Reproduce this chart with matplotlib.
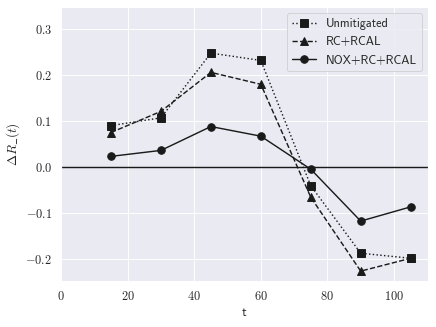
import matplotlib
matplotlib.use("Agg")
import matplotlib.pyplot as plt
import matplotlib.ticker as mticker
import seaborn as sns

# data
t = [15, 30, 45, 60, 75, 90, 105]
unmitigated = [0.090, 0.107, 0.248, 0.232, -0.041, -0.188, -0.199]
rc_rcal = [0.075, 0.121, 0.206, 0.180, -0.066, -0.227, -0.199]
nox_rc_rcal = [0.023, 0.036, 0.088, 0.067, -0.005, -0.118, -0.087]

sns.set_theme(style="darkgrid")
plt.rcParams['font.family'] = ['cmss10', 'DejaVu Sans']
plt.rcParams['mathtext.fontset'] = 'cm'
plt.rcParams['axes.unicode_minus'] = True

fig, ax = plt.subplots(figsize=(6.4, 4.8), dpi=68.125)

ax.plot(t, unmitigated, 'k:s', lw=1.5, ms=8, mec='k', label='Unmitigated')
ax.plot(t, rc_rcal, 'k--^', lw=1.5, ms=8, mec='k', label='RC+RCAL')
ax.plot(t, nox_rc_rcal, 'k-o', lw=1.5, ms=8, mec='k', label='NOX+RC+RCAL')
ax.axhline(0, color='k', lw=1.5)

ax.set_xlim(0, 110.25)
ax.set_ylim(-0.249, 0.348)
ax.set_xticks([0, 20, 40, 60, 80, 100])
ax.set_yticks([-0.2, -0.1, 0.0, 0.1, 0.2, 0.3])
ax.xaxis.set_major_formatter(mticker.FuncFormatter(lambda v, p: r'$%d$' % v))
ax.yaxis.set_major_formatter(mticker.FuncFormatter(lambda v, p: r'$%.1f$' % v))
ax.tick_params(labelsize=13)
ax.set_xlabel('t', fontsize=14)
ax.set_ylabel(r'$\Delta R\_(t)$', fontsize=14)
ax.legend(loc='upper right', fontsize=13)

fig.subplots_adjust(left=0.14, right=0.982, top=0.978, bottom=0.14)
fig.savefig('out.png')
